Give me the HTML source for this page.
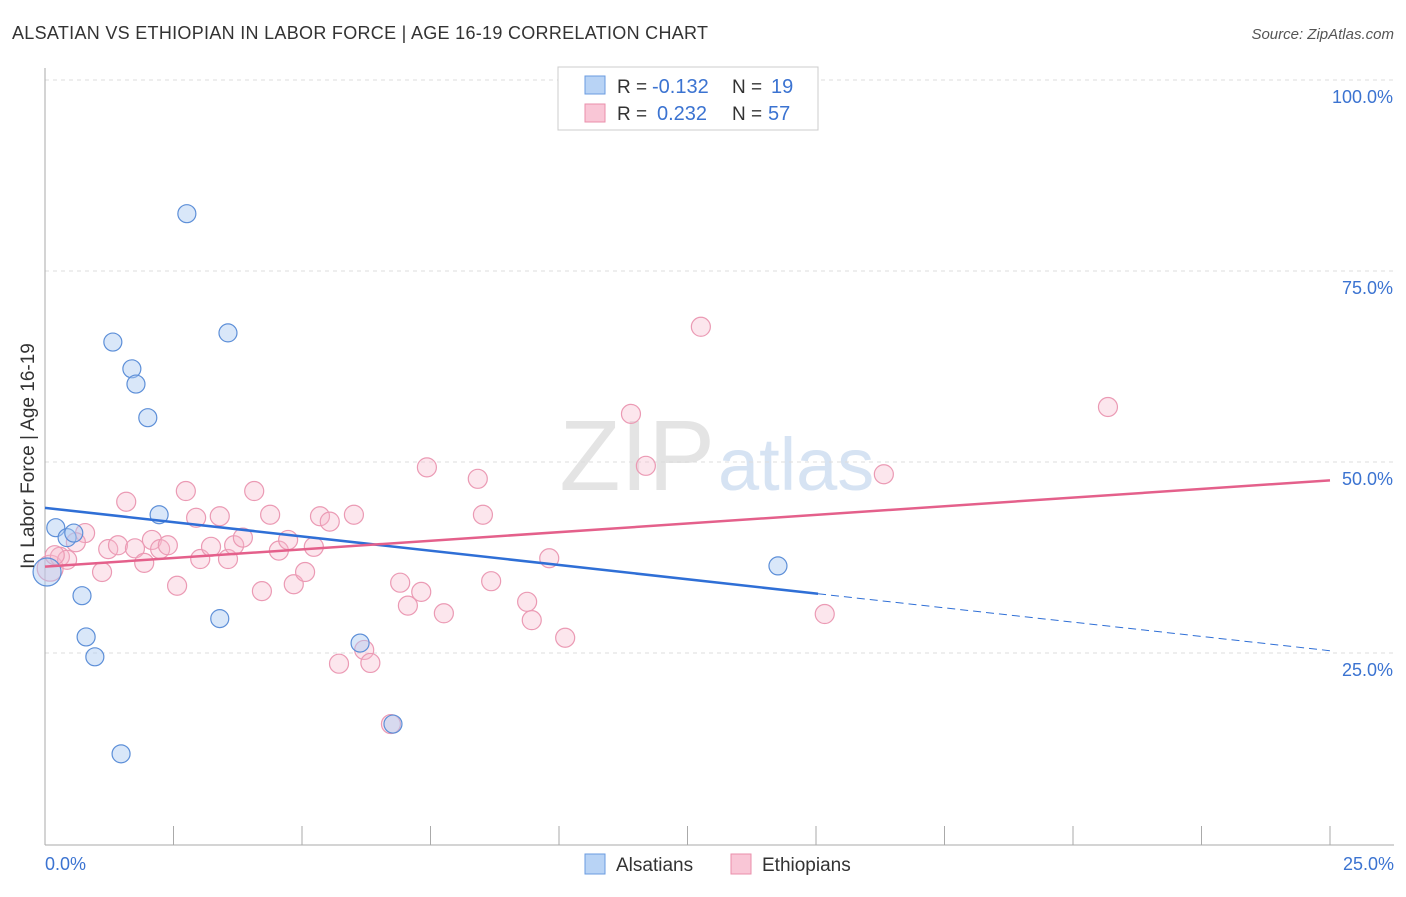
<!DOCTYPE html>
<html><head><meta charset="utf-8"><style>
body{margin:0;background:#fff;font-family:"Liberation Sans",sans-serif}
svg text{font-family:"Liberation Sans",sans-serif}
</style></head><body>
<svg id="c" width="1406" height="892" xmlns="http://www.w3.org/2000/svg">
<text x="12" y="39" font-size="18" fill="#333" textLength="696">ALSATIAN VS ETHIOPIAN IN LABOR FORCE | AGE 16-19 CORRELATION CHART</text>
<text x="1394" y="39" font-size="15" fill="#555" font-style="italic" text-anchor="end">Source: ZipAtlas.com</text>
<text x="715" y="490" font-size="100" fill="#e4e4e4" text-anchor="end" font-family="Liberation Serif">ZIP</text>
<text x="718" y="490" font-size="74" fill="#d6e3f3">atlas</text>
<g id="grid"></g><g id="axes"></g><g id="pts"></g><g id="lines"></g>
<text transform="translate(34,456) rotate(-90)" font-size="19" fill="#333" text-anchor="middle">In Labor Force | Age 16-19</text>
<g>
<rect x="558" y="67" width="260" height="63" fill="#fff" stroke="#ccc"/>
<rect x="585" y="76" width="20" height="18" fill="#b8d3f5" stroke="#6a9be0"/>
<rect x="585" y="104" width="20" height="18" fill="#f9c6d6" stroke="#ea8fab"/>
<text x="617" y="93" font-size="19" fill="#333">R =</text>
<text x="652" y="93" font-size="20" fill="#3b73d1">-0.132</text>
<text x="732" y="93" font-size="19" fill="#333">N =</text>
<text x="771" y="93" font-size="20" fill="#3b73d1">19</text>
<text x="617" y="120" font-size="19" fill="#333">R =</text>
<text x="657" y="120" font-size="20" fill="#3b73d1">0.232</text>
<text x="732" y="120" font-size="19" fill="#333">N =</text>
<text x="768" y="120" font-size="20" fill="#3b73d1">57</text>
</g>
<g>
<rect x="585" y="854" width="20" height="20" fill="#b8d3f5" stroke="#6a9be0"/>
<text x="616" y="871" font-size="19" fill="#333">Alsatians</text>
<rect x="731" y="854" width="20" height="20" fill="#f9c6d6" stroke="#ea8fab"/>
<text x="762" y="871" font-size="19" fill="#333">Ethiopians</text>
</g>
</svg>
<script>
const yTicks=[25,50,75,100];
const yTickLabels=["25.0%","50.0%","75.0%","100.0%"];
const xLabels=["0.0%","25.0%"];
const alsX=[0.21,0.43,0.56,0.72,0.80,0.97,1.32,1.48,1.69,1.77,2.00,2.22,2.76,3.40,3.56,6.13,6.77,14.26,0.04];
const alsY=[41.4,40.1,40.7,32.5,27.1,24.5,65.7,11.8,62.2,60.2,55.8,43.1,82.5,29.5,66.9,26.3,15.7,36.4,35.6];
const ethX=[0.1,0.29,0.43,0.78,1.11,1.23,1.42,1.58,1.75,1.93,2.08,2.24,2.39,2.57,2.74,2.94,3.02,3.23,3.40,3.56,3.68,3.85,4.07,4.22,4.38,4.55,4.73,4.84,5.06,5.23,5.35,5.54,5.72,6.01,6.21,6.33,6.73,6.91,7.06,7.32,7.43,7.76,8.42,8.52,8.68,9.38,9.47,9.81,10.12,11.40,11.69,12.76,15.17,16.32,20.68,0.19,0.6];
const ethY=[36.1,37.6,37.2,40.7,35.6,38.6,39.1,44.8,38.7,36.8,39.8,38.6,39.1,33.8,46.2,42.7,37.3,38.9,42.9,37.3,39.1,40.1,46.2,33.1,43.1,38.4,39.8,34.0,35.6,38.9,42.9,42.2,23.6,43.1,25.4,23.7,15.7,34.2,31.2,33.0,49.3,30.2,47.8,43.1,34.4,31.7,29.3,37.4,27.0,56.3,49.5,67.7,30.1,48.4,57.2,37.8,39.5];
const alsTrend=[44.0,25.3];
const ethTrend=[36.3,47.6];
const alsSolidEnd=15.04;
const X=v=>45+v/25*1285, Y=v=>844-v/100*764;
const NS="http://www.w3.org/2000/svg";
function mk(p,t,a){const e=document.createElementNS(NS,t);for(const k in a)e.setAttribute(k,a[k]);document.getElementById(p).appendChild(e);return e;}
yTicks.forEach((t,i)=>{
 const g=mk('grid','line',{x1:45,x2:1394,y1:Y(t),y2:Y(t),stroke:'#ddd','stroke-dasharray':'4,4'});
 
 
 const l=mk('axes','text',{x:1393,y:Y(t)+23,'font-size':18,fill:'#3b73d1','text-anchor':'end'});
 l.textContent=yTickLabels[i];
 
 
});
let a=mk('axes','line',{x1:45,x2:45,y1:68,y2:845,stroke:'#aaa'});


a=mk('axes','line',{x1:45,x2:1394,y1:845,y2:845,stroke:'#aaa'});


for(let i=0;i<=10;i++){const t=mk('axes','line',{x1:45+i*128.5,x2:45+i*128.5,y1:826,y2:845,stroke:'#aaa'});
 
 }
[[0,'start',45],[1,'end',1394]].forEach(([i,an,x])=>{const t=mk('axes','text',{x:x,y:870,'font-size':18,fill:'#3b73d1','text-anchor':an});t.textContent=xLabels[i];
 
 });
ethX.forEach((x,i)=>{const c=mk('pts','circle',{cx:X(x),cy:Y(ethY[i]),r:i==0?13:9.5,fill:'rgba(247,182,203,0.35)',stroke:'#eb9ab4','stroke-width':1.2});
 
 });
alsX.forEach((x,i)=>{const c=mk('pts','circle',{cx:X(x),cy:Y(alsY[i]),r:i==18?14:9,fill:'rgba(170,201,242,0.45)',stroke:'#5d8fd8','stroke-width':1.2});
 
 });
const ay=x=>alsTrend[0]+(alsTrend[1]-alsTrend[0])*x/25, ey=x=>ethTrend[0]+(ethTrend[1]-ethTrend[0])*x/25;
let l=mk('lines','line',{x1:X(0),y1:Y(ay(0)),x2:X(alsSolidEnd),y2:Y(ay(alsSolidEnd)),stroke:'#2f6fd6','stroke-width':2.5});


l=mk('lines','line',{x1:X(alsSolidEnd),y1:Y(ay(alsSolidEnd)),x2:X(25),y2:Y(ay(25)),stroke:'#2f6fd6','stroke-width':1,'stroke-dasharray':'8,5'});


l=mk('lines','line',{x1:X(0),y1:Y(ey(0)),x2:X(25),y2:Y(ey(25)),stroke:'#e4608b','stroke-width':2.5});


</script>
</body></html>
